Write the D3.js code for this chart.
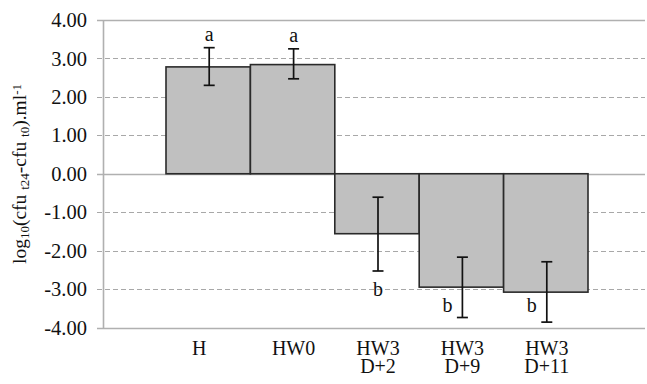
<!DOCTYPE html>
<html>
<head>
<meta charset="utf-8">
<script src="https://cdn.jsdelivr.net/npm/d3@7"></script>
<style>
  html, body { margin: 0; padding: 0; background: #fff; }
  svg { display: block; font-family: "Liberation Serif", "Times New Roman", serif; }
</style>
</head>
<body>
<svg id="chart" width="647" height="384"></svg>
<script>
// ---- data ----
const categories = ["H", "HW0", "HW3\nD+2", "HW3\nD+9", "HW3\nD+11"];
const means      = [2.78, 2.84, -1.56, -2.95, -3.08];
const errHigh    = [3.28, 3.25, -0.61, -2.17, -2.29];
const errLow     = [2.30, 2.47, -2.53, -3.74, -3.86];
const letters    = ["a", "a", "b", "b", "b"];
const yTicks     = [4, 3, 2, 1, 0, -1, -2, -3, -4];

// ---- layout ----
const svg = d3.select("#chart");
const axisX = 103, gridRight = 645;
const y = d3.scaleLinear().domain([-4, 4]).range([327.5, 20]);
const x = d3.scaleBand().domain(categories).range([166, 588]).paddingInner(0).paddingOuter(0);

// gridlines
const grid = svg.append("g");
grid.selectAll("line").data(yTicks).join("line")
  .attr("x1", axisX - 6).attr("x2", gridRight)
  .attr("y1", d => Math.round(y(d)) + 0.5).attr("y2", d => Math.round(y(d)) + 0.5)
  .attr("stroke", d => (d === 0 || d === 4 || d === -4) ? "#b0b0b0" : "#a8a8a8")
  .attr("stroke-width", d => (d === 0 || d === 4 || d === -4) ? 1.6 : 1)
  .attr("stroke-dasharray", d => (d === 0 || d === 4 || d === -4) ? null : "5,3");

// y axis
const yAxis = d3.axisLeft(y).tickValues(yTicks).tickSize(0).tickPadding(16)
  .tickFormat(d => d.toFixed(2));
const gy = svg.append("g").attr("transform", `translate(${axisX},0)`).call(yAxis);
gy.select(".domain").attr("stroke", "#b0b0b0").attr("stroke-width", 1.6);
gy.selectAll("text").attr("font-size", 20.5).attr("fill", "#111")
  .attr("font-family", "Liberation Serif, serif");

// bars
const idx = d3.range(categories.length);
svg.append("g").selectAll("rect").data(idx).join("rect")
  .attr("x", i => x(categories[i]))
  .attr("width", x.bandwidth())
  .attr("y", i => y(Math.max(0, means[i])))
  .attr("height", i => Math.abs(y(means[i]) - y(0)))
  .attr("fill", "#c0c0c0").attr("stroke", "#2a2a2a").attr("stroke-width", 1.6);

// error bars
const eb = svg.append("g").attr("stroke", "#111").attr("stroke-width", 1.7);
idx.forEach(i => {
  const cx = x(categories[i]) + x.bandwidth() / 2 + 1;
  eb.append("line").attr("x1", cx).attr("x2", cx).attr("y1", y(errHigh[i])).attr("y2", y(errLow[i]));
  eb.append("line").attr("x1", cx - 5.5).attr("x2", cx + 5.5).attr("y1", y(errHigh[i])).attr("y2", y(errHigh[i]));
  eb.append("line").attr("x1", cx - 5.5).attr("x2", cx + 5.5).attr("y1", y(errLow[i])).attr("y2", y(errLow[i]));
});

// significance letters
svg.append("g").selectAll("text").data(idx).join("text")
  .attr("font-size", 20).attr("fill", "#111").attr("text-anchor", "middle")
  .attr("x", i => {
    const cx = x(categories[i]) + x.bandwidth() / 2 + 1;
    return (means[i] < 0 && i > 2) ? cx - 15 : cx;
  })
  .attr("y", i => {
    if (means[i] >= 0) return y(errHigh[i]) - 7;
    if (i === 2) return y(errLow[i]) + 25;
    return y(-3.6);
  })
  .text(i => letters[i]);

// x labels
const xl = svg.append("g").selectAll("text").data(categories).join("text")
  .attr("font-size", 20).attr("fill", "#111").attr("text-anchor", "middle")
  .attr("x", d => x(d) + x.bandwidth() / 2 + (d === "H" ? -9 : 1))
  .attr("y", 355);
xl.each(function(d) {
  const lines = d.split("\n");
  const t = d3.select(this);
  lines.forEach((ln, k) => {
    t.append("tspan").attr("x", t.attr("x")).attr("dy", k === 0 ? 0 : 17.5).text(ln);
  });
});

// y axis title
const yt = svg.append("text")
  .attr("transform", "translate(26,174) rotate(-90)")
  .attr("text-anchor", "middle").attr("font-size", 19.5).attr("fill", "#111");
const parts = [
  ["log", 0], ["10", -1], ["(cfu ", 0], ["t24", -1], ["-cfu ", 0], ["t0", -1], [").ml", 0], ["-1", 1]
];
parts.forEach(([s, k]) => {
  const ts = yt.append("tspan").text(s);
  if (k === -1) ts.attr("baseline-shift", "-25%").attr("font-size", 13);
  if (k === 1) ts.attr("baseline-shift", "40%").attr("font-size", 13);
});
</script>
</body>
</html>
